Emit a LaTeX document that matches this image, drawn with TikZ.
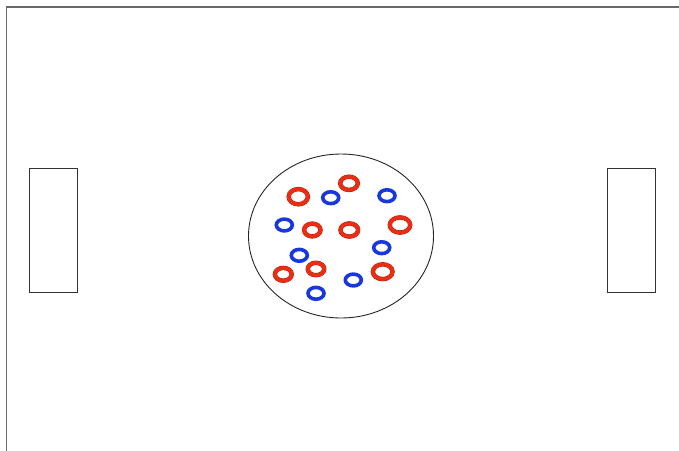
\documentclass[tikz,border=0pt]{standalone}
\usetikzlibrary{shapes.geometric}
\definecolor{frame}{RGB}{105,105,105}
\definecolor{ringred}{RGB}{235,45,20}
\definecolor{ringreddark}{RGB}{170,30,10}
\definecolor{ringblue}{RGB}{25,55,225}
\definecolor{ringbluedark}{RGB}{20,35,170}
\tikzset{
  framestyle/.style={draw=frame, line width=1.8pt},
  goalbox/.style={draw=black!80, line width=0.9pt, fill=white},
  arena/.style={draw=black!85, line width=0.9pt},
  redring/.style={draw=ringred, line width=3.6pt},
  bluering/.style={draw=ringblue, line width=3.6pt},
}
\begin{document}
\begin{tikzpicture}[x=1pt,y=-1pt]
\useasboundingbox (0,0) rectangle (679,450);
% outer field frame (runs off the right and bottom)
\draw[framestyle] (6.5,460) -- (6.5,7) -- (690,7);
% goals
\draw[goalbox] (29,168) rectangle (77,292);
\draw[goalbox] (607,168) rectangle (655,292);
% central circle
\draw[arena] (341,236) ellipse [x radius=92.5, y radius=82];
% red rings
\foreach \x/\y/\rx/\ry in {298.3/196.7/9.6/7.6, 349/183.3/8.8/6.6, 312.3/230/8.2/6.4,
  349.3/230/8.8/6.6, 400/225/10.2/7.6, 283.3/274.3/8.4/6.4, 316/269/8.2/6.2, 382.7/271.7/9.8/7.4}{
  \draw[draw=ringreddark, line width=4.4pt] (\x,\y) ellipse [x radius=\rx, y radius=\ry];
  \draw[redring] (\x,\y) ellipse [x radius=\rx, y radius=\ry];
}
% blue rings
\foreach \x/\y in {330.7/197.7, 387/195.7, 284.3/225, 381.7/247.7, 299.3/255.3, 353.3/280, 316/293.3}{
  \draw[bluering] (\x,\y) ellipse [x radius=8, y radius=5.9];
}
\end{tikzpicture}
\end{document}
